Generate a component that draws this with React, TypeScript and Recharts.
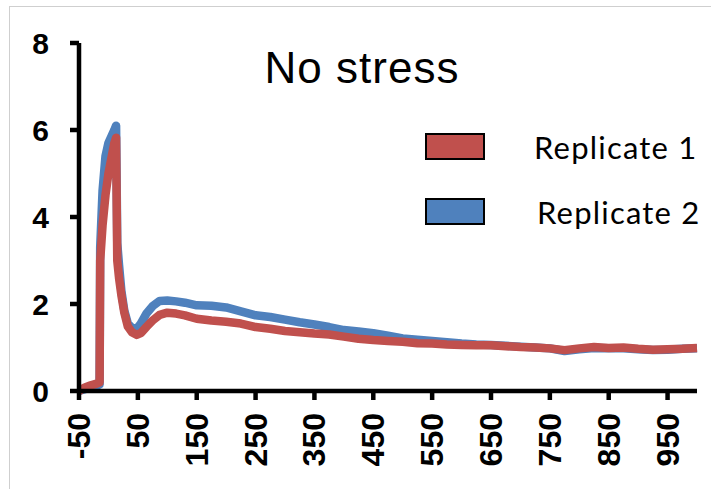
import { LineChart, Line, XAxis, YAxis } from 'recharts'

// time axis (s) and normalised signal for the two replicates
const times = [
  -50, -40, -30, -20, -15, -14, -10, -5, 0, 5, 10, 13, 15, 18, 22, 27, 33, 40, 48, 55, 65, 75, 87,
  100, 115, 130, 150, 175, 200, 225, 250, 275, 300, 325, 350, 375, 400, 425, 450, 475, 500, 525,
  550, 575, 600, 625, 650, 675, 700, 725, 750, 775, 800, 825, 850, 875, 900, 925, 950, 975, 1000,
]

const replicate1 = [
  0, 0.08, 0.13, 0.17, 0.2, 3.0, 3.8, 4.5, 5.0, 5.35, 5.7, 5.82, 3.0, 2.6, 2.2, 1.8, 1.48, 1.35,
  1.29, 1.33, 1.48, 1.62, 1.75, 1.8, 1.78, 1.74, 1.66, 1.62, 1.59, 1.55, 1.47, 1.43, 1.38, 1.35,
  1.32, 1.3, 1.25, 1.2, 1.17, 1.15, 1.13, 1.1, 1.09, 1.07, 1.06, 1.05, 1.05, 1.03, 1.01, 1.0, 0.98,
  0.94, 0.98, 1.01, 0.99, 1.0, 0.97, 0.95, 0.96, 0.97, 0.99,
]

const replicate2 = [
  0, 0.04, 0.08, 0.12, 0.15, 3.3, 4.6, 5.4, 5.7, 5.85, 6.0, 6.1, 3.4, 2.9, 2.3, 1.85, 1.55, 1.45,
  1.43, 1.55, 1.79, 1.95, 2.07, 2.08, 2.06, 2.03, 1.97, 1.96, 1.92, 1.83, 1.74, 1.7, 1.64, 1.58,
  1.53, 1.47, 1.4, 1.37, 1.33, 1.27, 1.21, 1.18, 1.15, 1.12, 1.09, 1.07, 1.06, 1.04, 1.02, 1.0,
  0.98, 0.92, 0.96, 0.99, 0.98, 0.98, 0.96, 0.94, 0.95, 0.97, 0.98,
]

const xTicks = [-50, 50, 150, 250, 350, 450, 550, 650, 750, 850, 950]
const yTicks = [0, 2, 4, 6, 8]

const seriesNames = ['Replicate 1', 'Replicate 2']
const seriesColors = ['#C0504D', '#4F81BD']

const data = times.map((t, i) => ({ t, r1: replicate1[i], r2: replicate2[i] }))

const axisFont = "'Liberation Sans', Arial, sans-serif"

function RotatedTick({ x, y, payload }: { x?: number; y?: number; payload?: { value: number } }) {
  return (
    <text
      x={x}
      y={y}
      transform={`rotate(-90 ${x} ${y})`}
      textAnchor="end"
      dominantBaseline="central"
      fontFamily={axisFont}
      fontSize={32}
      fontWeight="bold"
      fill="#000"
    >
      {payload?.value}
    </text>
  )
}

function BoxLegend() {
  return (
    <div
      style={{
        position: 'absolute',
        left: 425,
        top: 114,
        fontFamily: 'Lato, sans-serif',
        fontSize: 31,
        color: '#000',
      }}
    >
      {seriesNames.map((name, i) => (
        <div key={name} style={{ display: 'flex', alignItems: 'center', height: 65 }}>
          <div
            style={{
              width: 56,
              height: 23,
              background: seriesColors[i],
              border: '2px solid #000',
            }}
          />
          <span style={{ marginLeft: i === 0 ? 49 : 52, letterSpacing: 1.2 }}>{name}</span>
        </div>
      ))}
    </div>
  )
}

export default function App() {
  return (
    <div style={{ position: 'absolute', left: 0, top: 0, width: 711, height: 489, background: '#fff' }}>
      <div
        style={{
          position: 'absolute',
          left: 9,
          top: 6,
          right: 0,
          bottom: 0,
          borderTop: '1px solid #cfcfcf',
          borderLeft: '1px solid #cfcfcf',
        }}
      />
      <div
        style={{
          position: 'absolute',
          left: 0,
          width: 724,
          top: 43,
          textAlign: 'center',
          fontFamily: axisFont,
          fontSize: 44,
          letterSpacing: 1,
        }}
      >
        No stress
      </div>
      <BoxLegend />
      <LineChart
        width={711}
        height={489}
        data={data}
        margin={{ top: 43, right: 14, bottom: 0, left: 0 }}
        style={{ position: 'absolute', left: 0, top: 0 }}
      >
        <XAxis
          dataKey="t"
          type="number"
          domain={[-50, 1000]}
          ticks={xTicks}
          height={98}
          interval={0}
          axisLine={{ stroke: '#000', strokeWidth: 4.5 }}
          tickLine={{ stroke: '#000', strokeWidth: 4.5 }}
          tickSize={9}
          tickMargin={13}
          tick={<RotatedTick />}
        />
        <YAxis
          type="number"
          domain={[0, 8]}
          ticks={yTicks}
          width={79}
          axisLine={{ stroke: '#000', strokeWidth: 4.5 }}
          tickLine={{ stroke: '#000', strokeWidth: 4.5 }}
          tickSize={9}
          tickMargin={21}
          tick={{ fill: '#000', fontSize: 30, fontWeight: 'bold', fontFamily: axisFont }}
        />
        <Line
          dataKey="r2"
          stroke={seriesColors[1]}
          strokeWidth={8.5}
          dot={false}
          type="linear"
          strokeLinejoin="round"
          isAnimationActive={false}
        />
        <Line
          dataKey="r1"
          stroke={seriesColors[0]}
          strokeWidth={8.5}
          dot={false}
          type="linear"
          strokeLinejoin="round"
          isAnimationActive={false}
        />
      </LineChart>
    </div>
  )
}
